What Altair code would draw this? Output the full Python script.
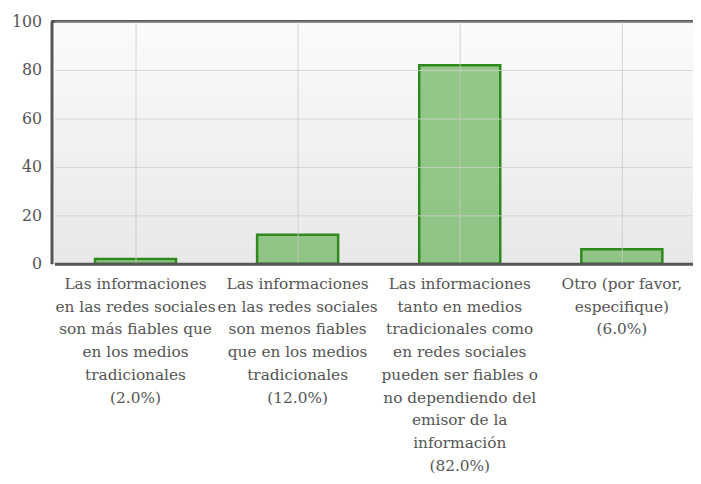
import altair as alt
import pandas as pd

label_lines = [
    ["Las informaciones", "en las redes sociales", "son más fiables que", "en los medios", "tradicionales", "(2.0%)"],
    ["Las informaciones", "en las redes sociales", "son menos fiables", "que en los medios", "tradicionales", "(12.0%)"],
    ["Las informaciones", "tanto en medios", "tradicionales como", "en redes sociales", "pueden ser fiables o",
     "no dependiendo del", "emisor de la", "información", "(82.0%)"],
    ["Otro (por favor,", "especifique)", "(6.0%)"],
]
values = [2, 12, 82, 6]
y_ticks = [0, 20, 40, 60, 80, 100]

categories = ["|".join(l) for l in label_lines]
df = pd.DataFrame({"cat": categories, "value": values})

FONT = "DejaVu Serif"
W, H = 649, 245

xscale = alt.Scale(domain=categories, range=[3, 659], paddingInner=0, paddingOuter=0)
yscale = alt.Scale(domain=[0, 100], nice=False)

bg = alt.Chart(df).mark_rect(
    color=alt.Gradient(
        gradient="linear",
        stops=[alt.GradientStop(color="#fbfbfb", offset=0),
               alt.GradientStop(color="#e8e8e8", offset=1)],
        x1=0, x2=0, y1=0, y2=1,
    )
).encode(x=alt.value(0), x2=alt.value(W), y=alt.value(0), y2=alt.value(H))

bars = alt.Chart(df).mark_bar(
    fill="#7abb6d", fillOpacity=0.8, stroke="#2f8a1e", strokeWidth=2.5,
    width=alt.RelativeBandSize(0.5),
).encode(
    x=alt.X("cat:N", sort=categories, scale=xscale,
            axis=alt.Axis(title=None, labelAngle=0, labelExpr="split(datum.label, '|')",
                          labelFont=FONT, labelFontSize=15.5, labelColor="#555",
                          labelLineHeight=23, labelPadding=13, labelLimit=0,
                          ticks=False, domainColor="#555", domainWidth=3,
                          grid=True, gridColor="#c8c8c8", gridOpacity=0.8, gridWidth=1,
                          labelBaseline="top", zindex=1)),
    y=alt.Y("value:Q", scale=yscale,
            axis=alt.Axis(title=None, values=y_ticks, labelFont=FONT, labelFontSize=16,
                          labelColor="#555", ticks=False, labelPadding=10,
                          domainColor="#555", domainWidth=3,
                          grid=True, gridColor="#cfcfcf", gridOpacity=0.8, gridWidth=1, zindex=1)),
)

top = alt.Chart(df).mark_rule(color="#555", strokeWidth=3).encode(
    x=alt.value(0), x2=alt.value(W + 5), y=alt.value(0)
)

chart = alt.layer(bg, bars, top).properties(
    width=W, height=H,
    autosize=alt.AutoSizeParams(type="none"),
    padding={"left": 44, "top": 11, "right": 0, "bottom": 216},
).configure_view(stroke=None)

chart.save("out.html", embed_options={"renderer": "svg", "actions": False})
